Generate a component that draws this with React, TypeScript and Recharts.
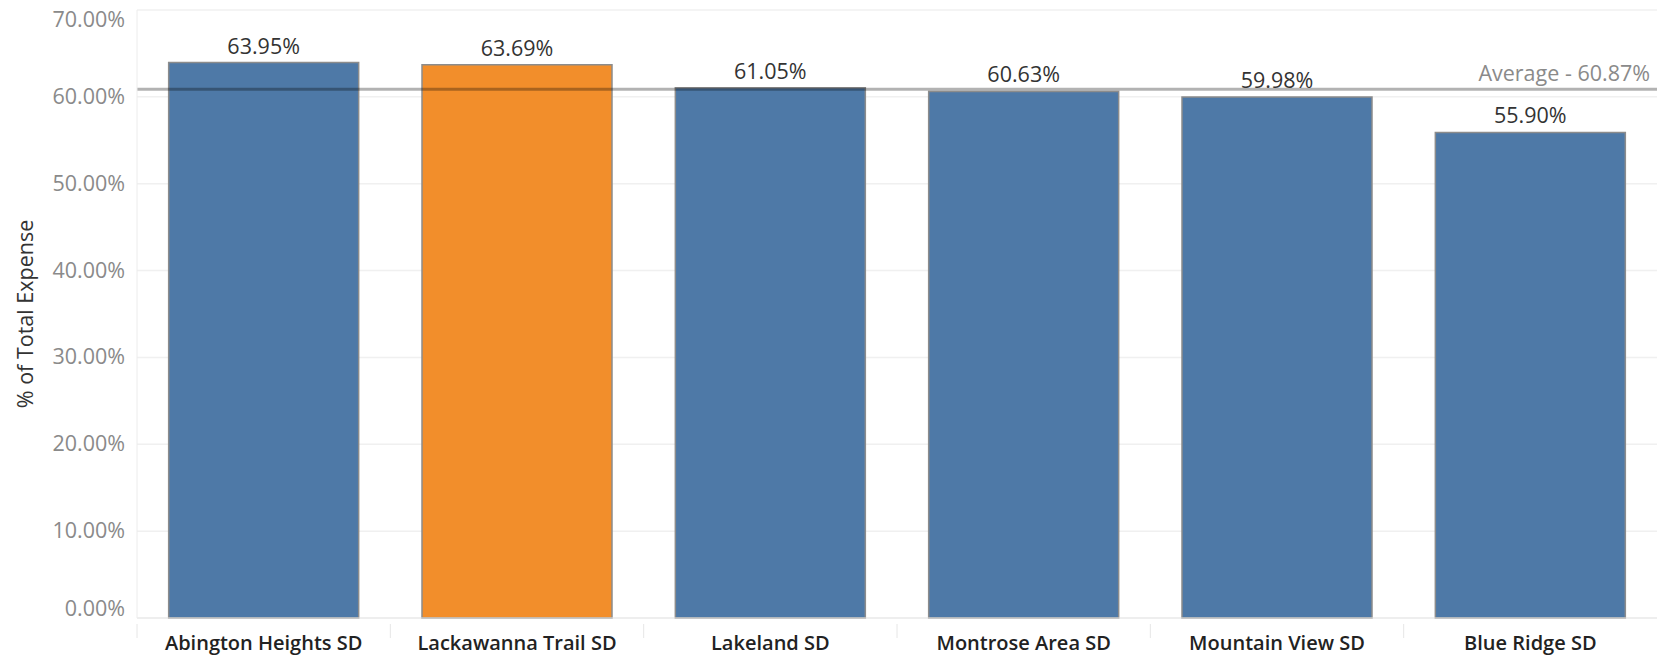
import React from "react";
import {
  BarChart,
  Bar,
  XAxis,
  YAxis,
  CartesianGrid,
  ReferenceLine,
  LabelList,
  Cell,
} from "recharts";

const categories = [
  "Abington Heights SD",
  "Lackawanna Trail SD",
  "Lakeland SD",
  "Montrose Area SD",
  "Mountain View SD",
  "Blue Ridge SD",
];
const values = [63.95, 63.69, 61.05, 60.63, 59.98, 55.9];
const highlighted = "Lackawanna Trail SD";
const averageValue = 60.87;
const yTicks = [0, 10, 20, 30, 40, 50, 60, 70];

const data = categories.map((name, i) => ({ name, value: values[i] }));

const FONT = "'Open Sans', 'DejaVu Sans', sans-serif";
const BLUE = "#4e79a7";
const ORANGE = "#f28e2b";

const fmt = (v: number) => `${v.toFixed(2)}%`;

const YTick = (props: any) => {
  const { x, y, payload } = props;
  let dy = 7;
  if (payload.value === 70) dy = 17;
  if (payload.value === 0) dy = -2;
  return (
    <text
      x={x}
      y={y}
      dy={dy}
      textAnchor="end"
      fill="#8a8a8a"
      fontSize={21.5}
      fontFamily={FONT}
    >
      {fmt(payload.value)}
    </text>
  );
};

const XTick = (props: any) => {
  const { x, y, payload } = props;
  const half = payload && payload.offset ? payload.offset : 126.7;
  return (
    <g>
      <line x1={x - half} x2={x - half} y1={y - 2} y2={y + 12} stroke="#e6e6e6" strokeWidth={1} />
      <text
        x={x}
        y={y}
        dy={24}
        textAnchor="middle"
        fill="#222"
        fontSize={20}
        fontWeight={600}
        fontFamily={FONT}
      >
        {payload.value}
      </text>
    </g>
  );
};

const AvgLabel = (props: any) => {
  const vb = props.viewBox || {};
  return (
    <text
      x={(vb.x || 0) + (vb.width || 0) - 7}
      y={(vb.y || 0) - 8}
      textAnchor="end"
      fill="#8a8a8a"
      fontSize={21.5}
      fontFamily={FONT}
    >
      {`Average - ${averageValue.toFixed(2)}%`}
    </text>
  );
};

export default function App() {
  return (
    <div style={{ position: "absolute", left: 0, top: 0, width: 1657, height: 657, background: "#fff" }}>
      <BarChart
        width={1657}
        height={657}
        data={data}
        margin={{ top: 10, right: 0, bottom: 0, left: 0 }}
        barCategoryGap="12.5%"
      >
        <CartesianGrid horizontal vertical={false} stroke="#f0f0f0" strokeWidth={1.5} />
        <XAxis
          dataKey="name"
          height={39}
          tickLine={false}
          axisLine={{ stroke: "#e8e8e8" }}
          tick={<XTick />}
          interval={0}
        />
        <YAxis
          width={137}
          domain={[0, 70]}
          ticks={yTicks}
          tickLine={false}
          axisLine={{ stroke: "#ececec" }}
          tick={<YTick />}
          tickMargin={6}
          label={{
            value: "% of Total Expense",
            angle: -90,
            position: "insideLeft",
            offset: 25,
            style: { textAnchor: "middle", fontFamily: FONT, fontSize: 21.5, fill: "#333" },
          }}
        />
        <Bar dataKey="value" isAnimationActive={false} stroke="#8c8c8c" strokeWidth={1.5}>
          {data.map((d) => (
            <Cell key={d.name} fill={d.name === highlighted ? ORANGE : BLUE} />
          ))}
          <LabelList
            dataKey="value"
            position="top"
            offset={9}
            formatter={(v: any) => fmt(Number(v))}
            fill="#333"
            fontSize={21.5}
            fontFamily={FONT}
          />
        </Bar>
        <ReferenceLine
          y={averageValue}
          stroke="#000"
          strokeOpacity={0.3}
          strokeWidth={3}
          label={<AvgLabel />}
        />
      </BarChart>
    </div>
  );
}
